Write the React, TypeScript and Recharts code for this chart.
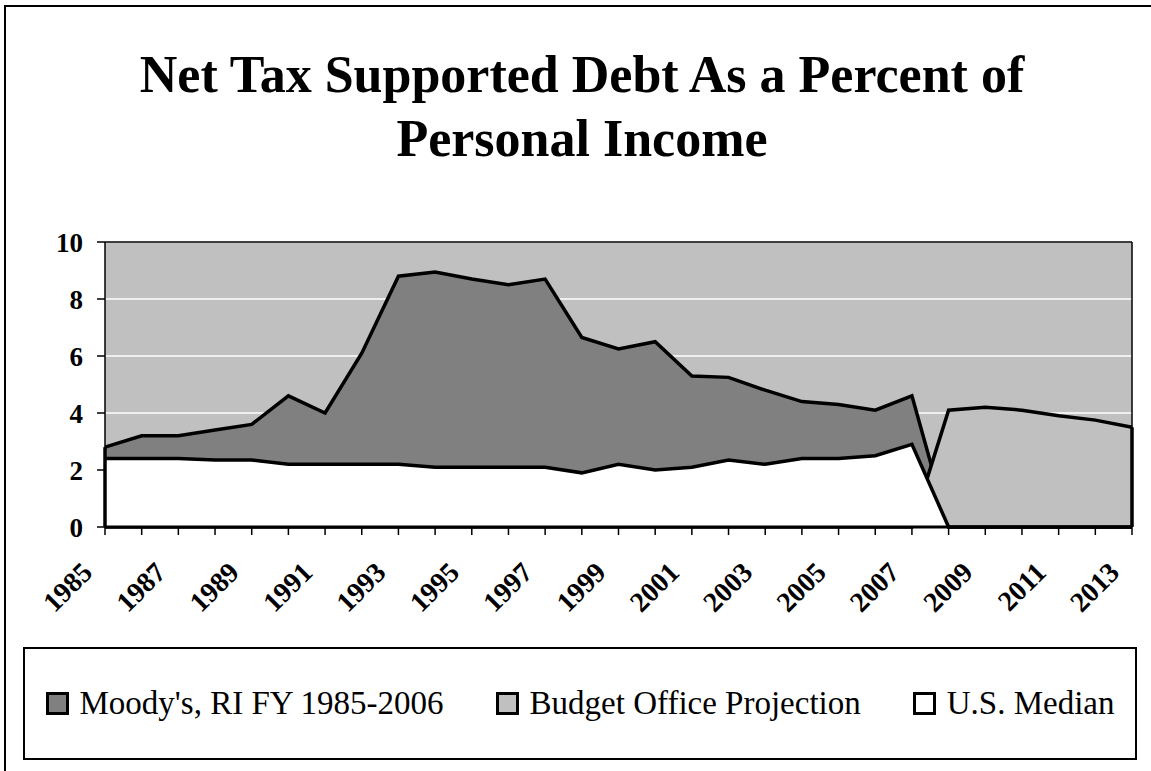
import { AreaChart, Area, XAxis, YAxis, CartesianGrid, Legend, ReferenceLine } from 'recharts'

const FONT = "'Liberation Serif', 'Times New Roman', Times, serif"

const YEARS = [
  '1985', '1986', '1987', '1988', '1989', '1990', '1991', '1992', '1993', '1994',
  '1995', '1996', '1997', '1998', '1999', '2000', '2001', '2002', '2003', '2004',
  '2005', '2006', '2007', '2008', '2009', '2010', '2011', '2012', '2013',
]

const MOODYS = [
  2.8, 3.2, 3.2, 3.4, 3.6, 4.6, 4.0, 6.1, 8.8, 8.95,
  8.7, 8.5, 8.7, 6.65, 6.25, 6.5, 5.3, 5.25, 4.8, 4.4,
  4.3, 4.1, 4.6, 0, 0, 0, 0, 0, 0,
]

const BUDGET = [
  0, 0, 0, 0, 0, 0, 0, 0, 0, 0,
  0, 0, 0, 0, 0, 0, 0, 0, 0, 0,
  0, 0, 0, 4.1, 4.2, 4.1, 3.9, 3.75, 3.5,
]

const US_MEDIAN = [
  2.4, 2.4, 2.4, 2.35, 2.35, 2.2, 2.2, 2.2, 2.2, 2.1,
  2.1, 2.1, 2.1, 1.9, 2.2, 2.0, 2.1, 2.35, 2.2, 2.4,
  2.4, 2.5, 2.9, 0, 0, 0, 0, 0, 0,
]

const Y_TICKS = [0, 2, 4, 6, 8, 10]

const SERIES = [
  { key: 'moodys', name: "Moody's, RI FY 1985-2006", fill: '#808080' },
  { key: 'budget', name: 'Budget Office Projection', fill: '#c0c0c0' },
  { key: 'median', name: 'U.S. Median', fill: '#ffffff' },
]

const data = YEARS.map((year, i) => ({
  year,
  moodys: MOODYS[i],
  budget: BUDGET[i],
  median: US_MEDIAN[i],
}))

// only odd years get a label, every year keeps its tick mark
const YearTick = ({ x, y, payload }: any) => {
  if (Number(payload.value) % 2 === 0) return <g />
  const bx = x - 11
  const by = y + 37
  return (
    <text
      x={bx}
      y={by}
      transform={`rotate(-45, ${bx}, ${by})`}
      textAnchor="end"
      fill="#000"
      fontFamily={FONT}
      fontWeight="bold"
      fontSize={28}
    >
      {payload.value}
    </text>
  )
}

const LegendBox = () => (
  <div
    style={{
      boxSizing: 'border-box',
      width: '100%',
      height: '100%',
      border: '2px solid #000',
      background: '#fff',
      display: 'flex',
      alignItems: 'center',
      justifyContent: 'center',
      gap: 52,
      fontFamily: FONT,
      fontSize: 33,
      color: '#000',
    }}
  >
    {SERIES.map((s) => (
      <div key={s.key} style={{ display: 'flex', alignItems: 'center', gap: 11, whiteSpace: 'nowrap' }}>
        <span
          style={{
            display: 'inline-block',
            boxSizing: 'border-box',
            width: 23,
            height: 23,
            border: '3px solid #000',
            background: s.fill,
          }}
        />
        <span style={{ lineHeight: 1.107 }}>{s.name}</span>
      </div>
    ))}
  </div>
)

export default function App() {
  const last = YEARS.length - 1
  return (
    <div style={{ position: 'absolute', left: 0, top: 0, width: 1151, height: 771, overflow: 'hidden', background: '#fff' }}>
      <div
        style={{
          position: 'absolute',
          left: 4,
          top: 5,
          width: 1200,
          height: 820,
          border: '2px solid #000',
        }}
      />
      <div
        style={{
          position: 'absolute',
          left: 0,
          top: 43,
          width: 1164,
          textAlign: 'center',
          fontFamily: FONT,
          fontWeight: 'bold',
          fontSize: 52,
          lineHeight: '64px',
          color: '#000',
        }}
      >
        Net Tax Supported Debt As a Percent of
        <br />
        Personal Income
      </div>
      <div style={{ position: 'absolute', left: 0, top: 0 }}>
        <AreaChart width={1151} height={771} data={data} margin={{ top: 242, right: 19, left: 45, bottom: 184 }}>
          <CartesianGrid vertical={false} stroke="#ffffff" strokeWidth={1.5} fill="#c0c0c0" fillOpacity={1} />
          <XAxis
            dataKey="year"
            interval={0}
            height={60}
            tick={<YearTick />}
            tickSize={8}
            tickLine={{ stroke: '#000', strokeWidth: 1.5 }}
            axisLine={{ stroke: '#000', strokeWidth: 3 }}
          />
          <YAxis
            domain={[0, 10]}
            ticks={Y_TICKS}
            width={60}
            tickSize={8}
            tickMargin={14}
            tick={{ fill: '#000', fontSize: 27, fontWeight: 'bold', fontFamily: FONT }}
            tickLine={{ stroke: '#000', strokeWidth: 1.5 }}
            axisLine={{ stroke: '#000', strokeWidth: 1.5 }}
          />
          {SERIES.map((s) => (
            <Area
              key={s.key}
              type="linear"
              dataKey={s.key}
              name={s.name}
              fill={s.fill}
              fillOpacity={1}
              stroke="#000"
              strokeWidth={3.5}
              dot={false}
              activeDot={false}
              isAnimationActive={false}
            />
          ))}
          <ReferenceLine y={10} stroke="#000" strokeWidth={1.5} />
          <ReferenceLine x={YEARS[last]} stroke="#000" strokeWidth={1.5} />
          <ReferenceLine
            segment={[{ x: YEARS[0], y: 0 }, { x: YEARS[0], y: MOODYS[0] }]}
            stroke="#000"
            strokeWidth={3.5}
          />
          <ReferenceLine
            segment={[{ x: YEARS[last], y: 0 }, { x: YEARS[last], y: BUDGET[last] }]}
            stroke="#000"
            strokeWidth={3.5}
          />
          <Legend
            layout="horizontal"
            verticalAlign="middle"
            align="center"
            content={<LegendBox />}
            wrapperStyle={{ left: 23, top: 647, width: 1114, height: 113, right: 'auto', bottom: 'auto' }}
          />
        </AreaChart>
      </div>
    </div>
  )
}
